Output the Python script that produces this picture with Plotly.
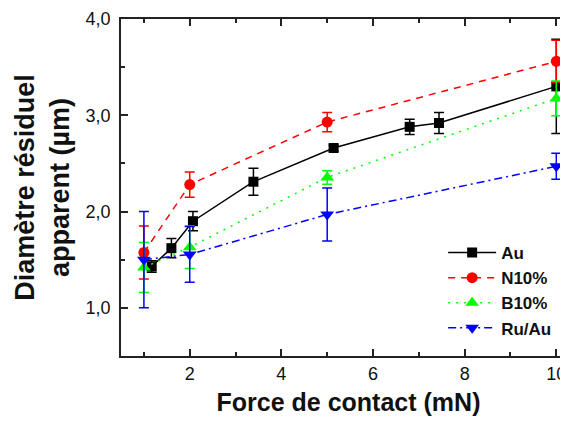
import plotly.graph_objects as go

# Au
au_x = [1.17, 1.60, 2.07, 3.39, 5.14, 6.80, 7.44, 10.0]
au_y = [1.43, 1.62, 1.90, 2.31, 2.66, 2.88, 2.92, 3.30]
au_err = [0.06, 0.10, 0.10, 0.14, 0.03, 0.08, 0.11, 0.49]
# N10%
n_x = [1, 2, 5, 10]
n_y = [1.575, 2.28, 2.93, 3.56]
n_err = [0.275, 0.13, 0.10, 0.22]
# B10%
b_x = [1, 2, 5, 10]
b_y = [1.42, 1.63, 2.355, 3.175]
b_err = [0.26, 0.22, 0.07, 0.18]
# Ru/Au
r_x = [1, 2, 5, 10]
r_y = [1.50, 1.555, 1.97, 2.47]
r_err = [0.50, 0.29, 0.275, 0.135]

x_ticks = [2, 4, 6, 8, 10]
y_ticks = [1.0, 2.0, 3.0, 4.0]

FONT = "Liberation Sans, Arial, sans-serif"

series = [
    ("Au", au_x, au_y, au_err, "#000000", "solid", "square", 10),
    ("N10%", n_x, n_y, n_err, "#FF0000", "7px,6px", "circle", 11),
    ("B10%", b_x, b_y, b_err, "#00FF00", "2px,6px", "triangle-up", 12),
    ("Ru/Au", r_x, r_y, r_err, "#0000FF", "8px,4px,2px,4px", "triangle-down", 12),
]

fig = go.Figure()
for name, xs, ys, es, col, dash, sym, sz in series:
    fig.add_trace(go.Scatter(
        x=xs, y=ys, name=name, mode="lines+markers",
        line=dict(color=col, width=1.5, dash=dash),
        marker=dict(color=col, symbol=sym, size=sz),
        error_y=dict(type="data", array=es, visible=True, color=col,
                     thickness=1.5, width=5),
    ))

axis_common = dict(
    showline=True, linecolor="#222222", linewidth=1.5,
    ticks="inside", ticklen=7, tickwidth=1.5, tickcolor="#222222",
    showgrid=False, zeroline=False, automargin=False,
    tickfont=dict(family=FONT, size=18, color="#111111"),
)

fig.update_layout(
    width=568, height=424,
    margin=dict(l=113, r=0, t=11, b=76),
    paper_bgcolor="white", plot_bgcolor="white",
    separators=", ",
    showlegend=True,
    legend=dict(
        x=0.708, y=0.359, xanchor="left", yanchor="top",
        font=dict(family=FONT, size=17, color="#111111", weight="bold"),
        bgcolor="rgba(0,0,0,0)", itemwidth=48, tracegroupgap=0,
    ),
    xaxis=dict(
        axis_common, range=[0.5, 10.43], mirror="ticks",
        tickvals=x_ticks, ticktext=[str(v) for v in x_ticks],
        minor=dict(ticks="inside", ticklen=4, tickwidth=1.5, dtick=1, tick0=0, tickcolor="#222222"),
        ticklabelstandoff=1,
        title=dict(text="Force de contact (mN)", standoff=10,
                   font=dict(family=FONT, size=25, color="#111111", weight="bold")),
    ),
    yaxis=dict(
        axis_common, range=[0.5, 4.0], mirror=False,
        tickvals=y_ticks, tickformat=".1f",
        minor=dict(ticks="inside", ticklen=4, tickwidth=1.5, dtick=0.5, tick0=0, tickcolor="#222222"),
        ticklabelstandoff=5,
        title=dict(text="Diamètre résiduel<br>apparent (µm)", standoff=8,
                   font=dict(family=FONT, size=27, color="#111111", weight="bold")),
    ),
)

fig.write_html("out.html")
